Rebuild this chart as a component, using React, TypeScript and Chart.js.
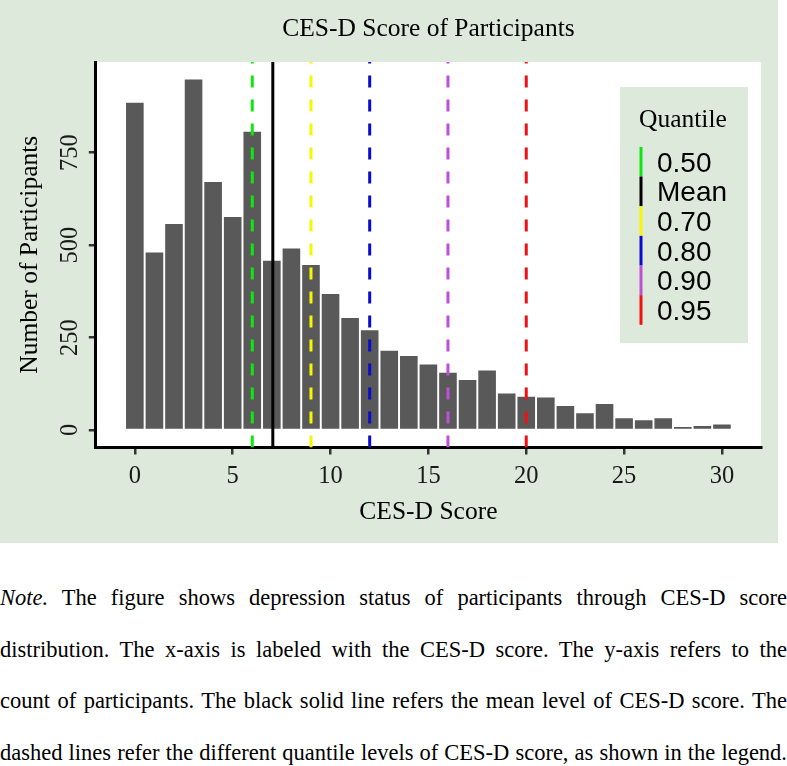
import { useEffect, useRef } from "react";
import { Chart, registerables } from "chart.js";

Chart.register(...registerables);

const TITLE = "CES-D Score of Participants";
const X_TITLE = "CES-D Score";
const Y_TITLE = "Number of Participants";
const LEGEND_TITLE = "Quantile";

const scores = [0, 1, 2, 3, 4, 5, 6, 7, 8, 9, 10, 11, 12, 13, 14, 15, 16, 17, 18, 19, 20, 21, 22, 23, 24, 25, 26, 27, 28, 29, 30];
const counts = [885, 480, 557, 948, 671, 576, 807, 458, 491, 446, 368, 303, 270, 214, 200, 177, 155, 135, 161, 99, 90, 88, 65, 45, 70, 32, 26, 32, 8, 11, 15];

const xTicks = [0, 5, 10, 15, 20, 25, 30];
const yTicks = [0, 250, 500, 750];

const refLabels = ["0.50", "Mean", "0.70", "0.80", "0.90", "0.95"];
const refValues = [6, 7.05, 9, 12, 16, 20];
const refColors = ["#12e612", "#000000", "#f7f700", "#0a0ad0", "#bf4fd4", "#f01212"];
const refDashed = [true, false, true, true, true, true];

const noteLines = [
  "The figure shows depression status of participants through CES-D score",
  "distribution. The x-axis is labeled with the CES-D score. The y-axis refers to the",
  "count of participants. The black solid line refers the mean level of CES-D score. The",
  "dashed lines refer the different quantile levels of CES-D score, as shown in the legend.",
];

const X_MIN = -1.995;
const X_MAX = 31.995;
const Y_MIN = -47.4;
const Y_MAX = 995.4;

const BG = "#dde9db";
const SERIF = '"Liberation Serif", "Times New Roman", serif';
const SANS = '"Liberation Sans", Arial, sans-serif';

const bgPlugin = {
  id: "bgPanel",
  beforeDraw(chart: any) {
    const { ctx, chartArea: ca, width, height } = chart;
    ctx.save();
    ctx.fillStyle = BG;
    ctx.fillRect(0, 0, width, height);
    ctx.fillStyle = "#ffffff";
    ctx.fillRect(ca.left, ca.top, ca.right - ca.left, ca.bottom - ca.top);
    ctx.restore();
  },
};

const textPlugin = {
  id: "texts",
  afterDraw(chart: any) {
    const { ctx, chartArea: ca } = chart;
    const xs = chart.scales.x;
    const ys = chart.scales.y;
    const cx = (ca.left + ca.right) / 2;
    const cy = (ca.top + ca.bottom) / 2;
    ctx.save();
    ctx.fillStyle = "#000";
    ctx.textAlign = "center";
    ctx.textBaseline = "alphabetic";
    ctx.font = `25.5px ${SERIF}`;
    ctx.fillText(TITLE, cx, ca.top - 26);
    ctx.fillText(X_TITLE, cx, ca.bottom + 71);
    ctx.save();
    ctx.translate(ca.left - 59, cy);
    ctx.rotate(-Math.PI / 2);
    ctx.fillText(Y_TITLE, 0, 0);
    ctx.restore();

    ctx.font = `24.5px ${SERIF}`;
    ctx.fillStyle = "#1a1a1a";
    xTicks.forEach((v) => ctx.fillText(String(v), xs.getPixelForValue(v), ca.bottom + 35));
    yTicks.forEach((v) => {
      ctx.save();
      ctx.translate(ca.left - 18.5, ys.getPixelForValue(v));
      ctx.rotate(-Math.PI / 2);
      ctx.fillText(String(v), 0, 0);
      ctx.restore();
    });

    // legend
    const lx = 620, ly = 87, lw = 128, lh = 256;
    ctx.fillStyle = BG;
    ctx.fillRect(lx, ly, lw, lh);
    ctx.fillStyle = "#000";
    ctx.textAlign = "left";
    ctx.font = `25.5px ${SERIF}`;
    ctx.fillText(LEGEND_TITLE, 639, 127.3);
    ctx.font = `28px ${SANS}`;
    const step = 29.66;
    refLabels.forEach((lab, i) => {
      const base = 171.7 + i * step;
      const mid = base - 10;
      ctx.fillStyle = refColors[i];
      ctx.fillRect(639.5, mid - step / 2, 3, step);
      ctx.fillStyle = "#000";
      ctx.fillText(lab, 657, base);
    });
    ctx.restore();
  },
};

function ChartView() {
  const ref = useRef<HTMLCanvasElement | null>(null);
  useEffect(() => {
    if (!ref.current) return;
    const lineSets = refValues.map((v, i) => ({
      type: "line" as const,
      label: refLabels[i],
      data: [
        { x: v, y: Y_MIN },
        { x: v, y: Y_MAX },
      ],
      borderColor: refColors[i],
      borderWidth: 3,
      borderDash: refDashed[i] ? [12, 12] : [],
      pointRadius: 0,
      fill: false,
      order: 0,
    }));
    const chart = new Chart(ref.current, {
      type: "bar",
      data: {
        datasets: [
          ...lineSets,
          {
            type: "bar" as const,
            label: "count",
            data: scores.map((s, i) => ({ x: s, y: counts[i] })),
            backgroundColor: "#595959",
            borderWidth: 0,
            barPercentage: 0.9,
            categoryPercentage: 1,
            order: 10,
          },
        ] as any,
      },
      options: {
        animation: false,
        responsive: false,
        events: [],
        layout: { padding: { top: 62, right: 17, left: 0, bottom: 0 } },
        plugins: {
          legend: { display: false },
          title: { display: false },
          tooltip: { enabled: false },
        },
        scales: {
          x: {
            type: "linear",
            min: X_MIN,
            max: X_MAX,
            offset: false,
            afterBuildTicks: (s: any) => {
              s.ticks = xTicks.map((v) => ({ value: v }));
            },
            afterFit: (s: any) => {
              s.height = 95.5;
            },
            ticks: { display: false },
            grid: {
              offset: false,
              drawOnChartArea: false,
              drawTicks: true,
              tickLength: 7,
              color: "#333333",
              lineWidth: 2.5,
            },
            border: { display: true, color: "#000", width: 3 },
          },
          y: {
            type: "linear",
            min: Y_MIN,
            max: Y_MAX,
            afterBuildTicks: (s: any) => {
              s.ticks = yTicks.map((v) => ({ value: v }));
            },
            afterFit: (s: any) => {
              s.width = 95.8;
            },
            ticks: { display: false },
            grid: {
              drawOnChartArea: false,
              drawTicks: true,
              tickLength: 7,
              color: "#333333",
              lineWidth: 2.5,
            },
            border: { display: true, color: "#000", width: 3 },
          },
        },
      } as any,
      plugins: [bgPlugin, textPlugin],
    });
    return () => chart.destroy();
  }, []);
  return <canvas ref={ref} width={778} height={543} style={{ display: "block" }} />;
}

export default function App() {
  const lineStyle: React.CSSProperties = {
    height: "51.4px",
    lineHeight: "51.4px",
    textAlign: "justify",
    textAlignLast: "justify" as any,
    whiteSpace: "nowrap",
    overflow: "visible",
  };
  return (
    <div
      style={{
        position: "absolute",
        left: 0,
        top: 0,
        width: 787,
        height: 766,
        overflow: "hidden",
        background: "#fff",
      }}
    >
      <ChartView />
      <div
        style={{
          position: "absolute",
          left: 0,
          top: 572.4,
          width: 787,
          fontFamily: SERIF,
          fontSize: "22.5px",
          color: "#000",
        }}
      >
        {noteLines.map((t, i) => (
          <div key={i} style={lineStyle}>
            {i === 0 ? (
              <>
                <i>Note.</i> {t}
              </>
            ) : (
              t
            )}
          </div>
        ))}
      </div>
    </div>
  );
}
